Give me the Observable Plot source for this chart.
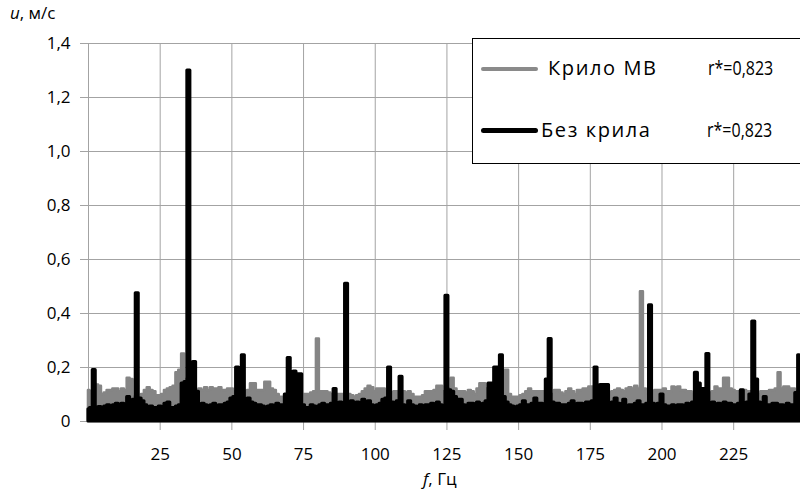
<!DOCTYPE html>
<html>
<head>
<meta charset="utf-8">
<script src="https://cdn.jsdelivr.net/npm/d3@7"></script>
<script src="https://cdn.jsdelivr.net/npm/@observablehq/plot@0.6"></script>
<style>
  body { margin: 0; background: #fff; }
  #wrap { position: relative; width: 800px; height: 498px; overflow: hidden; font-family: "Open Sans", "DejaVu Sans", sans-serif; }
  .lbl { position: absolute; color: #000; white-space: nowrap; }
  #legend { position: absolute; left: 472px; top: 38px; width: 340px; height: 124px; background: #fff; border: 1px solid #000; }
  .sw { position: absolute; left: 8px; width: 57px; border-radius: 3px; }
  .lt { position: absolute; white-space: nowrap; line-height: 1; font-size: 20px; transform-origin: 0 50%; }
</style>
</head>
<body>
<div id="wrap"></div>
<script>
// Frequencies f, Hz (1 Hz step)
const freq = d3.range(0, 249);

// "Крило МВ" spectrum (gray), u, m/s
const wingMV = [
  0.115,0.11,0.14,0.135,0.13,0.1,0.105,0.115,0.115,0.12,
  0.12,0.11,0.12,0.115,0.16,0.155,0.09,0.09,0.085,0.1,
  0.115,0.125,0.115,0.11,0.095,0.095,0.1,0.115,0.12,0.125,
  0.13,0.18,0.19,0.25,0.155,0.12,0.1,0.12,0.115,0.12,
  0.115,0.125,0.115,0.125,0.12,0.12,0.125,0.115,0.115,0.12,
  0.12,0.11,0.11,0.11,0.115,0.11,0.115,0.14,0.14,0.115,
  0.115,0.115,0.145,0.145,0.12,0.115,0.1,0.09,0.09,0.09,
  0.09,0.09,0.09,0.09,0.095,0.1,0.1,0.1,0.105,0.11,
  0.305,0.11,0.11,0.11,0.105,0.1,0.1,0.1,0.1,0.1,
  0.1,0.1,0.095,0.09,0.095,0.1,0.11,0.12,0.13,0.125,
  0.11,0.12,0.12,0.12,0.11,0.1,0.105,0.11,0.11,0.11,
  0.11,0.105,0.11,0.1,0.09,0.09,0.09,0.095,0.11,0.11,
  0.11,0.115,0.13,0.13,0.11,0.11,0.12,0.16,0.12,0.11,
  0.11,0.11,0.105,0.115,0.11,0.1,0.12,0.14,0.14,0.12,
  0.11,0.1,0.1,0.1,0.1,0.19,0.19,0.1,0.09,0.09,
  0.09,0.095,0.1,0.11,0.12,0.11,0.11,0.11,0.11,0.11,
  0.11,0.1,0.1,0.115,0.115,0.105,0.1,0.11,0.12,0.11,
  0.1,0.115,0.115,0.12,0.12,0.128,0.128,0.11,0.1,0.1,
  0.1,0.1,0.1,0.11,0.115,0.12,0.115,0.11,0.12,0.125,
  0.12,0.13,0.12,0.48,0.12,0.11,0.11,0.11,0.115,0.115,
  0.115,0.12,0.11,0.11,0.128,0.125,0.128,0.115,0.115,0.11,
  0.11,0.1,0.1,0.1,0.1,0.1,0.1,0.105,0.11,0.128,
  0.12,0.12,0.16,0.16,0.12,0.115,0.11,0.11,0.115,0.115,
  0.11,0.11,0.105,0.1,0.1,0.11,0.11,0.11,0.115,0.115,
  0.12,0.18,0.12,0.128,0.128,0.12,0.12,0.11,0.1
];

// "Без крила" spectrum (black), u, m/s
const noWing = [
  0.045,0.05,0.19,0.05,0.053,0.05,0.055,0.06,0.055,0.06,
  0.065,0.06,0.065,0.06,0.09,0.06,0.08,0.475,0.085,0.075,
  0.06,0.05,0.055,0.05,0.05,0.055,0.05,0.065,0.07,0.05,
  0.05,0.055,0.06,0.14,0.146,1.3,0.2,0.22,0.11,0.06,
  0.065,0.06,0.055,0.06,0.065,0.055,0.06,0.06,0.065,0.07,
  0.085,0.09,0.2,0.19,0.245,0.08,0.085,0.07,0.065,0.06,
  0.06,0.055,0.05,0.055,0.06,0.055,0.065,0.06,0.06,0.1,
  0.235,0.18,0.185,0.175,0.175,0.06,0.05,0.05,0.06,0.055,
  0.05,0.06,0.065,0.06,0.06,0.065,0.12,0.065,0.07,0.065,
  0.51,0.07,0.075,0.065,0.07,0.065,0.08,0.07,0.075,0.06,
  0.055,0.06,0.065,0.08,0.085,0.2,0.07,0.065,0.075,0.165,
  0.06,0.055,0.075,0.06,0.055,0.05,0.06,0.055,0.06,0.06,
  0.065,0.055,0.07,0.06,0.055,0.465,0.115,0.11,0.09,0.08,
  0.08,0.06,0.055,0.065,0.065,0.06,0.07,0.06,0.065,0.075,
  0.14,0.14,0.2,0.2,0.245,0.09,0.07,0.06,0.055,0.05,
  0.055,0.06,0.075,0.06,0.06,0.065,0.085,0.065,0.065,0.06,
  0.155,0.305,0.07,0.065,0.065,0.06,0.06,0.06,0.065,0.075,
  0.06,0.065,0.065,0.06,0.07,0.07,0.075,0.2,0.1,0.135,
  0.135,0.135,0.06,0.07,0.085,0.065,0.06,0.08,0.055,0.06,
  0.06,0.065,0.075,0.06,0.06,0.065,0.43,0.065,0.06,0.065,
  0.1,0.06,0.055,0.055,0.06,0.055,0.06,0.06,0.055,0.065,
  0.06,0.07,0.18,0.14,0.12,0.12,0.25,0.065,0.07,0.06,
  0.065,0.06,0.07,0.065,0.065,0.06,0.06,0.065,0.115,0.065,
  0.07,0.1,0.37,0.155,0.07,0.065,0.09,0.06,0.06,0.065,
  0.065,0.06,0.06,0.055,0.065,0.06,0.06,0.105,0.245
];

const xTicks = [25, 50, 75, 100, 125, 150, 175, 200, 225];
const yTicks = [0, 0.2, 0.4, 0.6, 0.8, 1.0, 1.2, 1.4];
const seriesNames = ["Крило МВ", "Без крила"];
const rValues = ["r*=0,823", "r*=0,823"];

const grayData = freq.map((f, i) => ({f, u: wingMV[i]}));
const blackData = freq.map((f, i) => ({f, u: noWing[i]}));

const gridColor = "#a3a3a3";
const grayColor = "#858585";
const fmtY = d => d === 0 ? "0" : d.toFixed(1).replace(".", ",");

const chart = Plot.plot({
  width: 800,
  height: 498,
  marginLeft: 88,
  marginRight: 0,
  marginTop: 43,
  marginBottom: 77,
  style: {fontFamily: "'Open Sans', 'DejaVu Sans', sans-serif", fontSize: "17px", color: "#000", background: "#fff"},
  x: {domain: [0, 248.3], ticks: xTicks},
  y: {domain: [0, 1.4], ticks: yTicks},
  marks: [
    Plot.gridY(yTicks, {stroke: gridColor, strokeOpacity: 1}),
    Plot.gridX(xTicks, {stroke: gridColor, strokeOpacity: 1}),
    Plot.ruleX([0], {stroke: gridColor}),
    Plot.axisX(xTicks, {tickSize: 9, tickPadding: 17, stroke: gridColor, fill: "#000", label: null, fontSize: 17}),
    Plot.axisY(yTicks, {tickSize: 8, tickPadding: 10, stroke: gridColor, fill: "#000", label: null, tickFormat: fmtY, fontSize: 17}),
    Plot.areaY(grayData, {x: "f", y: "u", curve: "step", fill: grayColor, stroke: grayColor, strokeWidth: 2.6, strokeLinejoin: "round"}),
    Plot.areaY(blackData, {x: "f", y: "u", curve: "step", fill: "#000", stroke: "#000", strokeWidth: 3.2, strokeLinejoin: "round"})
  ]
});

const wrap = document.getElementById("wrap");
wrap.appendChild(chart);

const yl = document.createElement("div");
yl.className = "lbl";
yl.style.cssText = "left:10px;top:1px;font-size:17px;";
yl.innerHTML = "<i>u</i>, м/с";
wrap.appendChild(yl);

const xl = document.createElement("div");
xl.className = "lbl";
xl.style.cssText = "left:423px;top:467px;font-size:17px;";
xl.innerHTML = "<i>f</i>, Гц";
wrap.appendChild(xl);

const lg = document.createElement("div");
lg.id = "legend";
const swColors = ["#8a8a8a", "#000"];
const rows = [{sw: 30, text: 548, r: 708, ty: 19}, {sw: 91, text: 541, r: 707, ty: 81}];
seriesNames.forEach((name, i) => {
  const s = document.createElement("div");
  s.className = "sw";
  s.style.cssText = `top:${rows[i].sw - 2}px;height:${i === 0 ? 4 : 5}px;background:${swColors[i]};`;
  lg.appendChild(s);
  const t = document.createElement("div");
  t.className = "lt";
  t.style.cssText = `left:${rows[i].text - 473}px;top:${rows[i].ty}px;letter-spacing:1.6px;`;
  t.textContent = name;
  lg.appendChild(t);
  const r = document.createElement("div");
  r.className = "lt";
  r.style.cssText = `left:${rows[i].r - 473}px;top:${rows[i].ty}px;transform:scaleX(0.8);`;
  r.textContent = rValues[i];
  lg.appendChild(r);
});
wrap.appendChild(lg);
</script>
</body>
</html>
